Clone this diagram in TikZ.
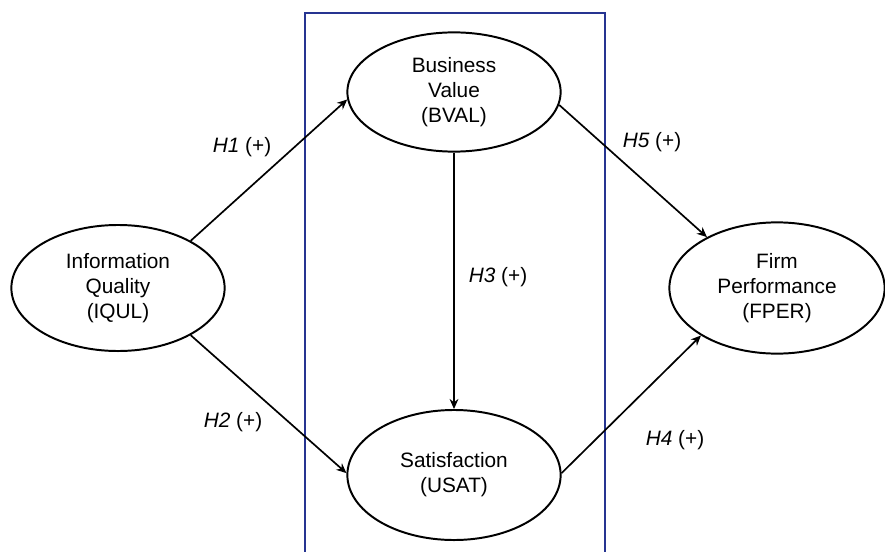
\documentclass[tikz,border=0pt]{standalone}
\usepackage{fontspec}
\setmainfont{Liberation Sans}
\usetikzlibrary{arrows.meta,shapes.geometric}
\definecolor{boxblue}{RGB}{38,52,145}

\begin{document}
\begin{tikzpicture}[x=0.025cm,y=-0.025cm,
    construct/.style={ellipse,draw,line width=1.4pt,minimum width=5.33cm,inner sep=0pt,align=center,font=\fontsize{14.8}{17.8}\selectfont},
    link/.style={-{Stealth[length=2.5mm,width=2.2mm]},line width=1.2pt},
    hyp/.style={font=\fontsize{14.8}{17.8}\selectfont}]
    \useasboundingbox (0,0) rectangle (885,551);
    % mediating box
    \draw [line width=1.7pt, boxblue] (305,560) -- (305,13) -- (605,13) -- (605,560);
    \node [construct, minimum height=3.15cm] (iqul) at (118,288) {Information\\Quality\\(IQUL)};
    \node [construct, minimum height=2.98cm] (bval) at (454,92) {Business\\Value\\(BVAL)};
    \node [construct, minimum height=3.25cm] (usat) at (454,475) {Satisfaction\\(USAT)};
    \node [construct, minimum height=3.28cm, minimum width=5.38cm] (fper) at (777,288) {Firm\\Performance\\(FPER)};
    \draw [link] (iqul.33) -- (bval.184);
    \draw [link] (iqul.-33) -- (usat.179);
    \draw [link] (bval.south) -- (usat.north);
    \draw [link] (bval.-7) -- (fper.144);
    \draw [link] (usat.1) -- (fper.212);
    % hypothesis labels
    \node [hyp] (h1) at (242,147) {\textit{H1} (+)};
    \node [hyp] (h2) at (233,422) {\textit{H2} (+)};
    \node [hyp] (h3) at (498,277) {\textit{H3} (+)};
    \node [hyp] (h4) at (675,440) {\textit{H4} (+)};
    \node [hyp] (h5) at (652,142) {\textit{H5} (+)};
\end{tikzpicture}
\end{document}
